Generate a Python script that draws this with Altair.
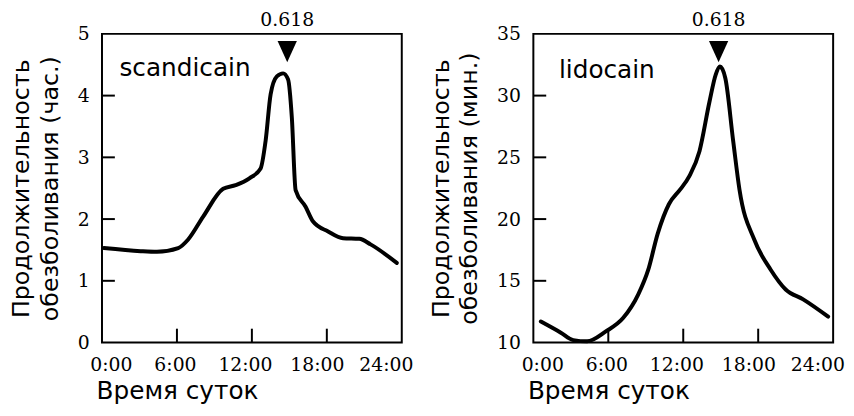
import altair as alt
import pandas as pd

# ---- data ----
scand_hours = [0.15, 3.1, 4.4, 6.1, 6.9, 8.1, 9.7, 10.7, 11.8, 12.7, 13.1, 13.5, 14.0, 14.5, 14.9, 15.2, 15.5, 16.3, 16.9, 18.1, 19.3, 20.6, 21.5, 23.6]
scand_values = [1.53, 1.48, 1.47, 1.53, 1.67, 2.04, 2.49, 2.55, 2.66, 2.82, 3.27, 4.02, 4.31, 4.36, 4.26, 3.64, 2.47, 2.2, 1.96, 1.8, 1.69, 1.68, 1.59, 1.29]

lido_hours = [0.6, 2.2, 3.2, 4.3, 5.8, 7.2, 8.4, 9.2, 9.95, 10.85, 11.76, 12.5, 13.3, 14.1, 14.6, 14.94, 15.37, 16.0, 16.5, 17.7, 19.0, 20.2, 21.6, 23.6]
lido_values = [11.7, 10.8, 10.2, 10.1, 10.9, 12.0, 13.9, 15.9, 18.8, 21.2, 22.4, 23.5, 25.5, 29.5, 31.7, 32.35, 31.4, 26.3, 22.4, 18.3, 15.9, 14.3, 13.5, 12.1]

x_label_values = [0, 6, 12, 18, 24]
x_inner_ticks = [6, 12, 18]
scand_y_ticks = [0, 1, 2, 3, 4, 5]
scand_inner_ticks = [1, 2, 3, 4]
lido_y_ticks = [10, 15, 20, 25, 30, 35]
lido_inner_ticks = [15, 20, 25, 30]

marker_hour = [14.83]
marker_label = ["0.618"]

x_title = "Время суток"
scand_title = ["Продолжительность", "обезболивания (час.)"]
lido_title = ["Продолжительность", "обезболивания (мин.)"]

W, H = 303, 312
SERIF = "DejaVu Serif"
SANS = "DejaVu Sans"


def panel(hours, values, ydomain, yvals, inner, ytitle, name, name_x, name_y):
    df = pd.DataFrame({"h": hours, "v": values})
    xs = alt.Scale(domain=[0, 24], nice=False, zero=False)
    ys = alt.Scale(domain=ydomain, nice=False, zero=False)
    xaxis = alt.Axis(values=x_label_values, labelExpr="datum.value + ':00'",
                     domain=False, ticks=False, grid=False, labelFont=SERIF,
                     labelFontSize=19, labelColor="black", labelPadding=13,
                     labelFlush=False,
                     labelOffset={"expr": "datum.value == 0 ? 9 : (datum.value == 6 ? -2 : (datum.value == 12 ? -7 : (datum.value == 18 ? -10 : -16)))"},
                     title=x_title, titleFont=SANS, titleFontSize=25,
                     titleFontWeight="normal", titleColor="black", titlePadding=5,
                     titleAnchor="start", titleX=-6)
    yaxis = alt.Axis(values=yvals, format="d", domain=False, ticks=False, grid=False,
                     labelFont=SERIF, labelFontSize=19, labelColor="black",
                     labelPadding=13, labelFlush=False,
                     title=ytitle, titleFont=SANS, titleFontSize=24,
                     titleFontWeight="normal", titleColor="black",
                     titlePadding=15, titleLineHeight=29)
    line = alt.Chart(df).mark_line(color="black", strokeWidth=4,
                                   interpolate="monotone", strokeJoin="round",
                                   strokeCap="round").encode(
        x=alt.X("h:Q", scale=xs, axis=xaxis),
        y=alt.Y("v:Q", scale=ys, axis=yaxis),
    )
    xt = alt.Chart(pd.DataFrame({"t": x_inner_ticks})).mark_rule(
        color="black", strokeWidth=2).encode(
        x=alt.X("t:Q", scale=xs), y=alt.value(H), y2=alt.value(H - 14))
    yt = alt.Chart(pd.DataFrame({"t": inner})).mark_rule(
        color="black", strokeWidth=2).encode(
        y=alt.Y("t:Q", scale=ys), x=alt.value(0), x2=alt.value(13))
    mk = pd.DataFrame({"h": marker_hour, "lab": marker_label})
    tri = alt.Chart(mk).mark_point(
        shape="M-1,-1.1L1,-1.1L0,1.1Z", filled=True, color="black",
        opacity=1, size=380).encode(
        x=alt.X("h:Q", scale=xs), y=alt.value(18))
    lab = alt.Chart(mk).mark_text(font=SERIF, fontSize=19, color="black",
                                  baseline="middle").encode(
        x=alt.X("h:Q", scale=xs), y=alt.value(-14), text="lab:N")
    nm = alt.Chart(pd.DataFrame({"h": [name_x], "v": [name_y], "n": [name]})).mark_text(
        font=SANS, fontSize=25, color="black", align="left", baseline="middle").encode(
        x=alt.X("h:Q", scale=xs), y=alt.Y("v:Q", scale=ys), text="n:N")
    return alt.layer(line, xt, yt, tri, lab, nm).properties(width=W, height=H)


left = panel(scand_hours, scand_values, [0, 5], scand_y_ticks, scand_inner_ticks,
             scand_title, "scandicain", 1.4, 4.45)
right = panel(lido_hours, lido_values, [10, 35], lido_y_ticks, lido_inner_ticks,
              lido_title, "lidocain", 2.05, 32.1)

chart = alt.hconcat(left, right, spacing=13).resolve_scale(y="independent").configure(
    padding={"left": 0, "top": 0, "right": 0, "bottom": 0}, background="white"
).configure_view(stroke="black", strokeWidth=2)

chart.save("out.html", embed_options={"renderer": "svg", "actions": False})
